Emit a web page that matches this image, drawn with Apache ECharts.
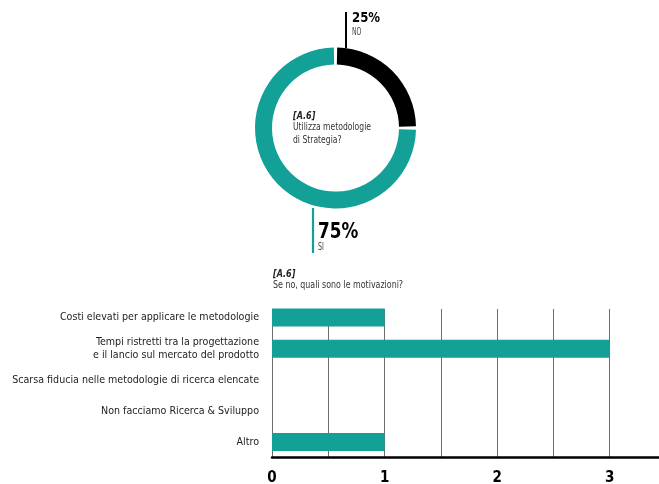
<!DOCTYPE html>
<html>
<head>
<meta charset="utf-8">
<script src="https://cdn.jsdelivr.net/npm/echarts@6/dist/echarts.min.js"></script>
<style>
  html, body { margin: 0; padding: 0; background: #fff; }
  #chart { width: 659px; height: 484px; }
</style>
</head>
<body>
<div id="chart"></div>
<script>
// Survey answers: does the company use strategy methodologies?
const pieNames = ['NO', 'SI'];
const pieValues = [25, 75];

// Reasons given by those answering "no"
const reasonCategories = [
  'Costi elevati per applicare le metodologie',
  'Tempi ristretti tra la progettazione\ne il lancio sul mercato del prodotto',
  'Scarsa fiducia nelle metodologie di ricerca elencate',
  'Non facciamo Ricerca & Sviluppo',
  'Altro'
];
const reasonValues = [1, 3, 0, 0, 1];
const xTickLabels = [0, 1, 2, 3];

const TEAL = '#12a097';
const FONT = '"DejaVu Sans Condensed", "Liberation Sans", sans-serif';

const chart = echarts.init(document.getElementById('chart'), null, { renderer: 'canvas' });

const xMin = 0, xMax = 3.5, xStep = 0.5;

// condensed caption text (scaled horizontally)
function caption(x, y, text, font, fill, sx, extra) {
  return {
    type: 'text', x: x, y: y, scaleX: sx,
    style: Object.assign({ text: text, font: font, fill: fill }, extra || {})
  };
}

const option = {
  backgroundColor: '#fff',
  animation: false,
  textStyle: { fontFamily: FONT },
  grid: [
    { left: 272, right: -7, top: 302, bottom: 26.5, containLabel: false, outerBoundsMode: 'none' },
    { left: 272, right: -7, top: 309, bottom: 26.5, containLabel: false, outerBoundsMode: 'none' }
  ],
  xAxis: [
    {
      gridIndex: 0, type: 'value', min: xMin, max: xMax, interval: xStep,
      axisLine: { show: false }, axisTick: { show: false },
      axisLabel: { show: false }, splitLine: { show: false }
    },
    {
      gridIndex: 1, type: 'value', min: xMin, max: xMax, interval: xStep,
      axisLine: { show: true, lineStyle: { color: '#000', width: 2.5 } },
      axisTick: { show: false },
      splitLine: { show: true, lineStyle: { color: '#6e6e6e', width: 1 } },
      axisLabel: {
        margin: 13,
        fontFamily: FONT, fontSize: 15, fontWeight: 'bold', color: '#000',
        formatter: v => (xTickLabels.indexOf(v) >= 0 ? String(v) : '')
      }
    }
  ],
  yAxis: [
    {
      gridIndex: 0, type: 'category', data: reasonCategories, inverse: true,
      axisLine: { show: false }, axisTick: { show: false },
      axisLabel: {
        margin: 13, fontFamily: FONT, fontSize: 10.6, color: '#222',
        lineHeight: 12.3, align: 'right'
      }
    },
    {
      gridIndex: 1, type: 'category', data: reasonCategories, inverse: true,
      axisLine: { show: false }, axisTick: { show: false }, axisLabel: { show: false }
    }
  ],
  series: [
    {
      type: 'pie',
      center: [335.5, 128],
      radius: [63.5, 80.5],
      startAngle: 90,
      clockwise: true,
      padAngle: 2.4,
      label: { show: false },
      labelLine: { show: false },
      silent: true,
      data: pieNames.map((n, i) => ({
        name: n, value: pieValues[i],
        itemStyle: { color: i === 0 ? '#000' : TEAL }
      }))
    },
    {
      type: 'bar',
      xAxisIndex: 0, yAxisIndex: 0,
      data: reasonValues,
      barWidth: 18,
      itemStyle: { color: TEAL },
      z: 5
    }
  ],
  graphic: [
    // leader line and value for "NO"
    { type: 'line', shape: { x1: 346, y1: 12, x2: 346, y2: 48 }, style: { stroke: '#000', lineWidth: 2 } },
    caption(352, 11, pieValues[0] + '%', 'bold 14.5px ' + FONT, '#000', 0.9),
    caption(352, 27, pieNames[0], '10px ' + FONT, '#444', 0.68),
    // leader line and value for "SI"
    { type: 'line', shape: { x1: 313, y1: 208, x2: 313, y2: 253 }, style: { stroke: TEAL, lineWidth: 2.2 } },
    caption(318, 222, pieValues[1] + '%', 'bold 21px ' + FONT, '#000', 0.89),
    caption(318, 242, pieNames[1], '10px ' + FONT, '#444', 0.7),
    // donut centre caption
    caption(293, 110.5, '[A.6]', 'italic bold 10.5px ' + FONT, '#222', 0.85),
    caption(293, 120.5, 'Utilizza metodologie\ndi Strategia?', '10px ' + FONT, '#333', 0.85, { lineHeight: 13.5 }),
    // bar chart caption
    caption(273, 268.5, '[A.6]', 'italic bold 10.5px ' + FONT, '#222', 0.85),
    caption(273, 280, 'Se no, quali sono le motivazioni?', '10px ' + FONT, '#333', 0.88)
  ]
};

chart.setOption(option);
</script>
</body>
</html>
